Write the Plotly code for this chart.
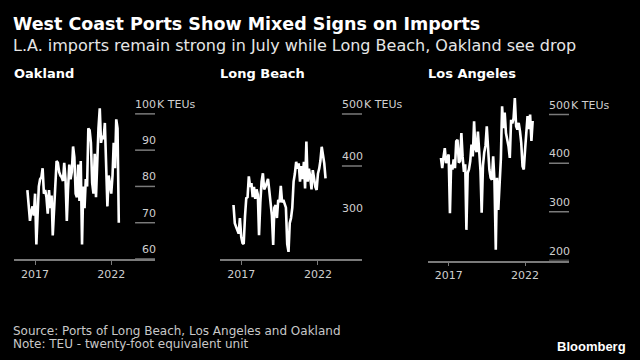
import plotly.graph_objects as go
import pandas as pd

# ---- data (monthly TEUs, Jul 2016 - Jul 2022) ----
dates = pd.date_range("2016-07-01", "2022-07-01", freq="MS")

oakland = [79, 75, 70.5, 73, 74.5, 72, 78, 64, 72, 80, 82, 82.5, 85, 78, 79, 77,
           72.5, 79, 74, 77.5, 66.5, 75, 82, 87, 86.5, 84, 83, 82.5, 81.5, 86.5,
           82, 70.5, 79, 86, 82, 84, 91, 88, 78, 77, 86, 76, 87, 64, 80, 74, 82,
           80, 96, 95.5, 92, 81, 78, 89, 77, 89, 96, 101.5, 92, 94, 93, 97.5, 82,
           74.5, 83, 81, 78, 83, 92, 85, 98.5, 96, 70]

long_beach = [325, 290, 283, 275, 270, 300, 264, 252, 250, 303, 338, 340, 380,
              360, 367, 340, 360, 337, 355, 345, 267, 330, 370, 386, 355, 360,
              370, 375, 352, 320, 305, 248, 320, 325, 300, 335, 330, 362, 330,
              335, 325, 320, 250, 235, 290, 300, 320, 370, 385, 408, 395, 405,
              370, 400, 375, 408, 357, 447, 370, 395, 380, 355, 392, 370, 360,
              354, 385, 395, 410, 437, 420, 405, 376]

los_angeles = [411, 390, 413, 431, 400, 411, 418, 297, 397, 387, 408, 390, 445,
               448, 401, 405, 462, 413, 382, 398, 263, 380, 387, 404, 438, 414,
               486, 430, 423, 465, 423, 384, 298, 395, 422, 436, 476, 415, 387,
               370, 366, 414, 363, 222, 370, 304, 366, 408, 517, 472, 504, 462,
               448, 435, 411, 489, 482, 492, 534, 476, 469, 483, 466, 442, 394,
               387, 428, 456, 497, 470, 500, 446, 487]

panel_names = ["Oakland", "Long Beach", "Los Angeles"]
series = [oakland, long_beach, los_angeles]
tick_years = ["2017-01-01", "2022-01-01"]
tick_year_labels = ["2017", "2022"]
y_ticks = [[60, 70, 80, 90, 100], [300, 400, 500], [200, 300, 400, 500]]
y_gridded = [[60, 70, 80, 90, 100], [400, 500], [200, 300, 400, 500]]
unit_suffix = ["K TEUs", "K TEUs", "K TEUs"]

# ---- layout geometry (pixels) ----
W, H = 640, 360
x_px = [(14, 155), (220, 362), (427.5, 569)]
y_bottom_px = [259, 259, 260.5]
y_top_px = 95
y_ranges = [[60, 105.2], [221.2, 536.5], [200, 540.2]]
x_range = ["2015-08-15", "2024-11-15"]

FONT = "DejaVu Sans"
GRID = "#7a7a7a"
TXT = "#cfcfcf"

fig = go.Figure()
layout = dict(
    width=W, height=H, margin=dict(l=0, r=0, t=0, b=0),
    paper_bgcolor="black", plot_bgcolor="black", showlegend=False,
    font=dict(family=FONT, color=TXT, size=11),
)
shapes, annotations = [], []

for i, (name, vals) in enumerate(zip(panel_names, series)):
    n = "" if i == 0 else str(i + 1)
    xa, ya = "x" + n, "y" + n
    fig.add_trace(go.Scatter(x=dates, y=vals, mode="lines", xaxis=xa, yaxis=ya,
                             line=dict(color="white", width=2.6), hoverinfo="skip"))
    layout["xaxis" + n] = dict(
        domain=[x_px[i][0] / W, x_px[i][1] / W], range=x_range, anchor=ya,
        showgrid=False, zeroline=False, showline=True, linecolor=GRID, linewidth=1.5,
        ticks="outside", ticklen=4, tickcolor=GRID, tickwidth=1,
        tickvals=tick_years, ticktext=tick_year_labels,
        tickfont=dict(family=FONT, size=11, color=TXT),
    )
    layout["yaxis" + n] = dict(
        domain=[1 - y_bottom_px[i] / H, 1 - y_top_px / H], range=y_ranges[i], anchor=xa,
        showgrid=False, zeroline=False, showticklabels=False, showline=False,
    )
    xd = xa + " domain"
    for v in y_gridded[i]:
        shapes.append(dict(type="line", xref=xd, yref=ya, x0=1 - 20 / 141.5, x1=1,
                           y0=v, y1=v, line=dict(color=GRID, width=1.5), layer="below"))
    top = y_ticks[i][-1]
    for v in y_ticks[i]:
        annotations.append(dict(xref=xd, yref=ya, x=1, y=v, text=str(v), showarrow=False,
                                xanchor="right", yanchor="bottom", yshift=2, xshift=2,
                                borderpad=0,
                                font=dict(family=FONT, size=11, color=TXT)))
        if v == top:
            annotations.append(dict(xref=xd, yref=ya, x=1, y=v, text=unit_suffix[i],
                                    showarrow=False, xanchor="left", yanchor="bottom",
                                    yshift=2, xshift=1, borderpad=0,
                                    font=dict(family=FONT, size=11, color=TXT)))
    # panel title
    annotations.append(dict(xref="paper", yref="paper", x=(x_px[i][0] - 2) / W, y=1 - 74 / H,
                            text="<b>" + name + "</b>", showarrow=False,
                            xanchor="left", yanchor="middle",
                            font=dict(family=FONT, size=13, color="white")))


def txt(x, y, s, size, color, anchor="left", family=FONT):
    annotations.append(dict(xref="paper", yref="paper", x=x / W, y=1 - y / H, text=s,
                            showarrow=False, xanchor=anchor, yanchor="middle",
                            font=dict(family=family, size=size, color=color)))


txt(11, 24, "<b>West Coast Ports Show Mixed Signs on Imports</b>", 17.5, "white")
txt(11, 45, "L.A. imports remain strong in July while Long Beach, Oakland see drop", 16, "#e6e6e6")
txt(11, 331, "Source: Ports of Long Beach, Los Angeles and Oakland", 12, "#c8c8c8")
txt(11, 344, "Note: TEU - twenty-foot equivalent unit", 12, "#c8c8c8")
txt(628, 346, "<b>Bloomberg</b>", 13, "white", anchor="right", family="Liberation Sans")

layout["shapes"] = shapes
layout["annotations"] = annotations
fig.update_layout(**layout)
fig.write_html("out.html")
